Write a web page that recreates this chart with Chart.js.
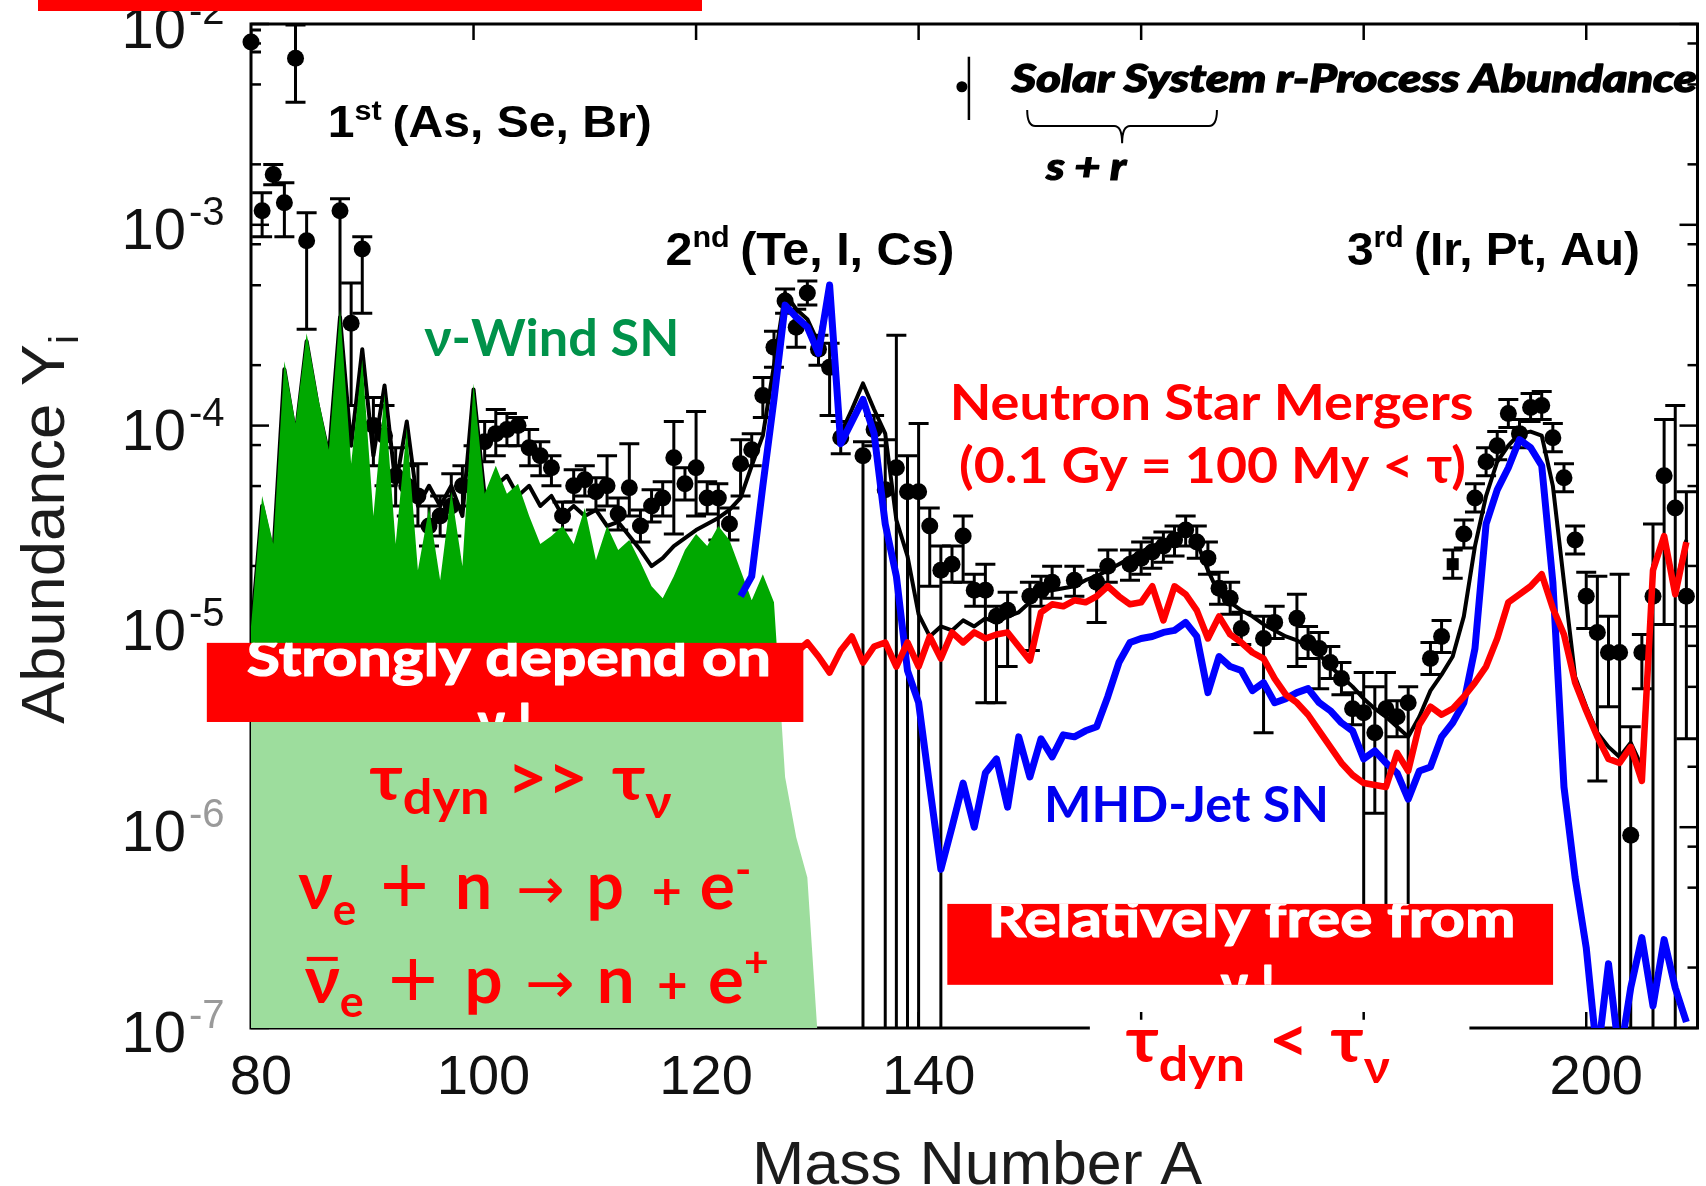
<!DOCTYPE html>
<html>
<head>
<meta charset="utf-8">
<script src="https://cdn.jsdelivr.net/npm/chart.js@4.4.1/dist/chart.umd.min.js"></script>
<style>
  html, body { margin: 0; padding: 0; background: #fff; overflow: hidden; }
  #wrap { width: 1706px; height: 1186px; }
</style>
</head>
<body>
<div id="wrap"><canvas id="abund" width="1706" height="1186"></canvas></div>
<script>
// ---- data: log10 abundances against mass number A ----

// mass numbers for the model curves
var massA = [
  80, 81, 82, 83, 84, 85, 86, 87, 88, 89,
  90, 91, 92, 93, 94, 95, 96, 97, 98, 99,
  100, 101, 102, 103, 104, 105, 106, 107, 108, 109,
  110, 111, 112, 113, 114, 115, 116, 117, 118, 119,
  120, 121, 122, 123, 124, 125, 126, 127, 128, 129,
  130, 131, 132, 133, 134, 135, 136, 137, 138, 139,
  140, 141, 142, 143, 144, 145, 146, 147, 148, 149,
  150, 151, 152, 153, 154, 155, 156, 157, 158, 159,
  160, 161, 162, 163, 164, 165, 166, 167, 168, 169,
  170, 171, 172, 173, 174, 175, 176, 177, 178, 179,
  180, 181, 182, 183, 184, 185, 186, 187, 188, 189,
  190, 191, 192, 193, 194, 195, 196, 197, 198, 199,
  200, 201, 202, 203, 204, 205, 206, 207, 208, 209
];

// black curve, A = 80..209
var blackLogY = [
  -5.05, -4.40, -4.65, -3.72, -4.05, -3.58, -3.90, -4.15, -3.46, -4.10,
  -3.62, -4.15, -3.80, -4.30, -3.98, -4.40, -4.30, -4.40, -4.30, -4.45,
  -3.82, -4.35, -4.30, -4.25, -4.35, -4.30, -4.40, -4.35, -4.45, -4.40,
  -4.45, -4.42, -4.50, -4.48, -4.55, -4.62, -4.70, -4.66, -4.60, -4.56,
  -4.52, -4.49, -4.46, -4.42, -4.36, -4.20, -4.05, -3.70, -3.34, -3.42,
  -3.47, -3.59, -3.30, -4.04, -3.92, -3.79, -3.92, -4.04, -4.47, -4.65,
  -4.94, -5.05, -5.00, -5.02, -4.97, -5.00, -4.96, -4.98, -4.95, -4.93,
  -4.88, -4.83, -4.82, -4.81, -4.80, -4.77, -4.75, -4.72, -4.69, -4.66,
  -4.63, -4.60, -4.58, -4.55, -4.52, -4.58, -4.72, -4.84, -4.88, -4.92,
  -4.95, -4.99, -5.02, -5.05, -5.07, -5.10, -5.14, -5.20, -5.25, -5.30,
  -5.36, -5.41, -5.45, -5.50, -5.55, -5.45, -5.32, -5.24, -5.15, -4.95,
  -4.60, -4.35, -4.18, -4.10, -4.04, -4.03, -4.05, -4.30, -4.78, -5.25,
  -5.40, -5.53, -5.60, -5.65, -5.58, -5.70, -4.70, -4.56, -4.81, -4.57
];

// MHD-jet SN, A = 124..209
var blueA = massA.slice(massA.indexOf(124));
var blueLogY = [
  -4.85, -4.75, -4.30, -3.87, -3.40, -3.46,
  -3.51, -3.64, -3.30, -4.09, -3.98, -3.87, -4.04, -4.49, -4.75, -5.22,
  -5.38, -5.80, -6.21, -6.00, -5.78, -6.00, -5.73, -5.66, -5.90, -5.55,
  -5.75, -5.56, -5.65, -5.54, -5.55, -5.52, -5.50, -5.35, -5.18, -5.08,
  -5.06, -5.05, -5.03, -5.02, -4.98, -5.05, -5.33, -5.15, -5.20, -5.22,
  -5.32, -5.28, -5.38, -5.36, -5.33, -5.31, -5.38, -5.42, -5.48, -5.52,
  -5.66, -5.62, -5.68, -5.73, -5.86, -5.72, -5.70, -5.55, -5.48, -5.38,
  -5.11, -4.49, -4.32, -4.21, -4.07, -4.11, -4.20, -4.78, -5.80, -6.25,
  -6.60, -7.15, -6.68, -7.15, -6.80, -6.55, -6.89, -6.56, -6.80, -6.97
];

// neutron star mergers, A = 126..209
var redA = massA.slice(massA.indexOf(126));
var redLogY = [
  -5.10, -5.15, -5.10, -5.13,
  -5.08, -5.15, -5.23, -5.12, -5.05, -5.18, -5.10, -5.08, -5.20, -5.08,
  -5.20, -5.05, -5.16, -5.03, -5.08, -5.03, -5.06, -5.04, -5.03, -5.10,
  -5.17, -4.93, -4.89, -4.90, -4.87, -4.88, -4.85, -4.80, -4.85, -4.89,
  -4.88, -4.80, -4.97, -4.80, -4.84, -4.92, -5.06, -4.95, -5.04, -5.08,
  -5.13, -5.16, -5.26, -5.34, -5.38, -5.44, -5.52, -5.60, -5.68, -5.74,
  -5.78, -5.79, -5.80, -5.63, -5.72, -5.49, -5.40, -5.44, -5.41, -5.35,
  -5.28, -5.20, -5.06, -4.88, -4.84, -4.80, -4.74, -4.91, -5.04, -5.28,
  -5.42, -5.55, -5.66, -5.68, -5.60, -5.77, -4.72, -4.55, -4.84, -4.58
];

// neutrino-driven wind SN, A = 80..131
var greenA = massA.slice(0, massA.indexOf(131) + 1);
var greenLogY = [
  -5.00, -4.35, -4.59, -3.68, -3.99, -3.54, -3.85, -4.12, -3.42, -4.19,
  -3.67, -4.45, -3.84, -4.59, -4.01, -4.72, -4.41, -4.77, -4.33, -4.70,
  -3.79, -4.34, -4.20, -4.34, -4.29, -4.45, -4.59, -4.55, -4.50, -4.59,
  -4.41, -4.67, -4.50, -4.62, -4.57, -4.68, -4.80, -4.86, -4.75, -4.62,
  -4.54, -4.60, -4.50, -4.57, -4.72, -4.87, -4.74, -4.88, -5.75, -6.05,
  -6.25, -7.10
];

// solar system r-process abundances with error bar ends
var solarA = [
  80, 81, 82, 83, 84, 85,
  88, 89, 90, 91, 92, 93, 94, 95, 96, 97,
  98, 99, 100, 101, 102, 103, 104, 105, 106, 107,
  108, 109, 110, 111, 112, 113, 114, 115, 116, 117,
  118, 119, 120, 121, 122, 123, 124, 125, 126, 127,
  128, 129, 130, 131, 132, 133,
  135, 136, 137, 138, 139, 140, 141, 142, 143, 144,
  145, 146, 147, 148,
  150, 151, 152,
  154,
  156, 157,
  159, 160, 161, 162, 163, 164, 165, 166, 167, 168, 169,
  171, 172,
  174, 175, 176, 177, 178, 179, 180, 181, 182, 183, 184,
  186, 187, 188, 189, 190, 191, 192, 193, 194, 195,
  196, 197, 198, 199, 200, 201, 202, 203, 204, 205,
  206, 207, 208, 209
];
var solarLogY = [
  -2.09, -2.93, -2.75, -2.89, -2.17, -3.08,
  -2.93, -3.49, -3.12, -4.00, -4.05, -4.25, -4.30, -4.35, -4.50, -4.45,
  -4.40, -4.30, -4.20, -4.08, -4.04, -4.02, -4.00, -4.11, -4.15, -4.21,
  -4.45, -4.30, -4.27, -4.33, -4.30, -4.44, -4.31, -4.50, -4.40, -4.36,
  -4.16, -4.29, -4.21, -4.36, -4.36, -4.49, -4.19, -4.12, -3.85, -3.61,
  -3.38, -3.51, -3.34, -3.62, -3.71, -4.06,
  -4.15, -4.02, -4.32, -4.21, -4.33, -4.33, -4.50, -4.72, -4.69, -4.55,
  -4.82, -4.82, -4.95, -4.92,
  -4.85, -4.82, -4.78,
  -4.77,
  -4.78, -4.70,
  -4.69, -4.66, -4.63, -4.60, -4.57, -4.52, -4.58, -4.66, -4.81, -4.86, -5.01,
  -5.06, -4.98,
  -4.96, -5.08, -5.11, -5.18, -5.26, -5.41, -5.43, -5.53, -5.41, -5.45, -5.38,
  -5.16, -5.05, -4.69, -4.54, -4.36, -4.18, -4.10, -3.94, -4.04, -3.91,
  -3.90, -4.06, -4.26, -4.57, -4.85, -5.03, -5.13, -5.13, -6.04, -5.13,
  -4.85, -4.25, -4.41, -4.85
];
var solarLo = [
  -2.14, -3.06, -2.80, -3.06, -2.39, -3.52,
  -4.10, -3.90, -3.44, -4.20, -4.30, -4.40, -4.45, -4.50, -4.60, -4.55,
  -4.55, -4.40, -4.30, -4.18, -4.15, -4.10, -4.10, -4.20, -4.25, -4.30,
  -4.52, -4.38, -4.35, -4.42, -4.40, -4.52, -4.45, -4.58, -4.48, -4.45,
  -4.54, -4.37, -4.45, -4.44, -4.57, -4.57, -4.35, -4.20, -3.96, -3.71,
  -3.44, -3.61, -3.40, -3.70, -3.95, -4.14,
  -7.20, -4.10, -7.20, -7.20, -7.20, -7.20, -4.80, -7.20, -4.78, -4.78,
  -4.90, -5.38, -5.38, -5.20,
  -5.12, -4.90, -4.86,
  -4.85,
  -4.98, -4.78,
  -4.77, -4.74, -4.71, -4.68, -4.65, -4.60, -4.66, -4.74, -4.89, -4.94, -5.09,
  -5.53, -5.06,
  -5.20, -5.16, -5.31, -5.26, -5.34, -5.49, -6.50, -5.93, -6.50, -5.55, -6.50,
  -5.24, -5.13, -4.76, -4.61, -4.43, -4.25, -4.17, -4.01, -4.11, -3.98,
  -3.97, -4.13, -4.33, -4.64, -5.01, -5.77, -5.40, -7.20, -7.20, -5.31,
  -7.20, -4.99, -7.20, -5.56
];
var solarHi = [
  -2.03, -2.84, -2.70, -2.79, -2.005, -2.94,
  -2.87, -3.29, -3.06, -3.86, -3.90, -4.11, -4.20, -4.19, -4.40, -4.35,
  -4.24, -4.20, -4.10, -3.98, -3.92, -3.94, -3.96, -4.02, -4.08, -4.15,
  -4.38, -4.22, -4.20, -4.26, -4.15, -4.36, -4.09, -4.42, -4.32, -4.28,
  -3.98, -4.21, -3.93, -4.28, -4.29, -4.41, -4.07, -4.04, -3.76, -3.53,
  -3.32, -3.42, -3.28, -3.55, -3.59, -3.98,
  -4.08, -3.95, -4.07, -3.55, -4.15, -3.99, -4.41, -4.60, -4.60, -4.45,
  -4.74, -4.69, -4.90, -4.83,
  -4.78, -4.75, -4.70,
  -4.70,
  -4.72, -4.62,
  -4.62, -4.58, -4.56, -4.53, -4.50, -4.45, -4.50, -4.58, -4.73, -4.78, -4.93,
  -4.95, -4.90,
  -4.84, -5.00, -5.03, -5.10, -5.18, -5.33, -5.23, -5.30, -5.23, -5.37, -5.30,
  -5.08, -4.97, -4.62, -4.47, -4.29, -4.11, -4.03, -3.87, -3.97, -3.84,
  -3.83, -3.99, -4.19, -4.50, -4.73, -4.75, -4.95, -4.74, -5.50, -5.04,
  -4.49, -3.97, -3.90, -4.33
];
var solarSquareA = [188];

// axis ticks
var xTickValues = [80, 100, 120, 140, 160, 180, 200];
var xTopTicks = [100, 120, 140, 160, 180, 200];
var yDecades = [-7, -6, -5, -4, -3, -2];
var yMinorSteps = [2, 5, 8];

// ---- styling ----
var SANS = '"Liberation Sans", Arial, sans-serif';
var CAL = 'Lato, "Open Sans", "DejaVu Sans", sans-serif';
var RED = '#ff0000';
var WIND_DARK = '#00a800';
var WIND_LIGHT = '#9ddd9d';

function pts(aList, logList) {
  var out = [];
  for (var i = 0; i < aList.length; i++) {
    out.push({ x: aList[i], y: Math.pow(10, logList[i]) });
  }
  return out;
}
function px(chart, a) { return chart.scales.x.getPixelForValue(a); }
function py(chart, lg) { return chart.scales.y.getPixelForValue(Math.pow(10, lg)); }

// red note boxes and the white one under the bottom formula (A range, log Y range)
var noteBoxes = [
  { a: [76.03, 129.64], lg: [-5.082, -5.476], fill: RED, lines: [
      { at: [79.62, -5.245], width: 524, parts: [{ text: 'Strongly depend on', font: 'bold 52px ' + CAL, color: '#fff', heavy: 1.2 }] },
      { at: [102.83, -5.565], align: 'center', parts: [{ text: '\u03bd !', font: 'bold 52px ' + CAL, color: '#fff', heavy: 1.2 }] } ] },
  { a: [142.58, 197.02], lg: [-6.382, -6.785], fill: RED, lines: [
      { at: [146.18, -6.548], width: 528, parts: [{ text: 'Relatively free from', font: 'bold 52px ' + CAL, color: '#fff', heavy: 1.2 }] },
      { at: [169.6, -6.87], align: 'center', parts: [{ text: '\u03bd !', font: 'bold 52px ' + CAL, color: '#fff', heavy: 1.2 }] } ] },
  { a: [155.39, 189.5], lg: [-6.959, -7.358], fill: '#fff', lines: [] }
];

var labels = [
  { at: [86.89, -2.564], width: 324, parts: [
      { text: '1', font: 'bold 44px ' + SANS },
      { text: 'st', font: 'bold 28px ' + SANS, dy: -17, gap: 10 },
      { text: '(As, Se, Br)', font: 'bold 44px ' + SANS }] },
  { at: [117.25, -3.2], width: 289, parts: [
      { text: '2', font: 'bold 46px ' + SANS },
      { text: 'nd', font: 'bold 29px ' + SANS, dy: -18, gap: 10 },
      { text: '(Te, I, Cs)', font: 'bold 46px ' + SANS }] },
  { at: [178.49, -3.2], width: 293, parts: [
      { text: '3', font: 'bold 46px ' + SANS },
      { text: 'rd', font: 'bold 29px ' + SANS, dy: -18, gap: 10 },
      { text: '(Ir, Pt, Au)', font: 'bold 46px ' + SANS }] },
  { at: [148.38, -2.337], width: 685, parts: [
      { text: 'Solar System r-Process Abundance', font: 'italic 900 38px ' + CAL, heavy: 1.4 }] },
  { at: [151.47, -2.777], width: 80, parts: [
      { text: 's + r', font: 'italic 900 38px ' + CAL, heavy: 1.2 }] },
  { at: [95.58, -3.653], width: 255, parts: [
      { text: '\u03bd-Wind SN', font: 'bold 52px ' + CAL, color: '#00924a' }] },
  { at: [142.79, -3.972], width: 524, parts: [
      { text: 'Neutron Star Mergers', font: 'bold 50px ' + CAL, color: RED }] },
  { at: [143.63, -4.287], width: 507, parts: [
      { text: '(0.1 Gy = 100 My < \u03c4)', font: 'bold 50px ' + CAL, color: RED }] },
  { at: [151.26, -5.972], width: 285, parts: [
      { text: 'MHD-Jet SN', font: 'bold 50px ' + CAL, color: '#0000ee' }] },
  { at: [90.65, -5.867], width: 302, parts: [
      { text: '\u03c4', font: 'bold 64px ' + CAL, color: RED },
      { text: 'dyn', font: 'bold 48px ' + CAL, color: RED, dy: 14, gap: 16 },
      { text: '>>', font: 'bold 64px ' + CAL, color: RED, gap: 22 },
      { text: '\u03c4', font: 'bold 64px ' + CAL, color: RED },
      { text: '\u03bd', font: 'bold 46px ' + CAL, color: RED, dy: 18 }] },
  { at: [84.25, -6.406], width: 453, parts: [
      { text: '\u03bd', font: 'bold 66px ' + CAL, color: RED },
      { text: 'e', font: 'bold 44px ' + CAL, color: RED, dy: 16, gap: 24 },
      { text: '+', font: '84px ' + SANS, color: RED, dy: 4, gap: 26 },
      { text: 'n', font: 'bold 66px ' + CAL, color: RED, gap: 24 },
      { text: '\u2192', font: '58px "DejaVu Sans", sans-serif', color: RED, gap: 22 },
      { text: 'p', font: 'bold 66px ' + CAL, color: RED, gap: 28 },
      { text: '+', font: 'bold 52px ' + CAL, color: RED, gap: 18 },
      { text: 'e', font: 'bold 66px ' + CAL, color: RED },
      { text: '-', font: 'bold 44px ' + CAL, color: RED, dy: -24 }] },
  { at: [84.83, -6.875], width: 464, parts: [
      { text: '\u03bd', font: 'bold 66px ' + CAL, color: RED, bar: true },
      { text: 'e', font: 'bold 44px ' + CAL, color: RED, dy: 14, gap: 24 },
      { text: '+', font: '84px ' + SANS, color: RED, dy: 4, gap: 26 },
      { text: 'p', font: 'bold 66px ' + CAL, color: RED, gap: 22 },
      { text: '\u2192', font: '58px "DejaVu Sans", sans-serif', color: RED, gap: 22 },
      { text: 'n', font: 'bold 66px ' + CAL, color: RED, gap: 22 },
      { text: '+', font: 'bold 52px ' + CAL, color: RED, gap: 20 },
      { text: 'e', font: 'bold 66px ' + CAL, color: RED },
      { text: '+', font: 'bold 42px ' + CAL, color: RED, dy: -26 }] },
  { at: [158.61, -7.167], width: 264, parts: [
      { text: '\u03c4', font: 'bold 64px ' + CAL, color: RED },
      { text: 'dyn', font: 'bold 48px ' + CAL, color: RED, dy: 19, gap: 22 },
      { text: '<', font: 'bold 64px ' + CAL, color: RED, gap: 20 },
      { text: '\u03c4', font: 'bold 64px ' + CAL, color: RED },
      { text: '\u03bd', font: 'bold 46px ' + CAL, color: RED, dy: 21 }] }
];

// draws a row of text pieces, squeezed or stretched to the given width;
// "heavy" adds an outline in the fill colour to thicken the strokes
function drawParts(ctx, parts, x, y, width, align) {
  var total = 0;
  parts.forEach(function(p, i) {
    ctx.font = p.font;
    p.w = ctx.measureText(p.text).width;
    total += p.w + (i < parts.length - 1 ? (p.gap || 0) : 0);
  });
  var sx = width ? width / total : 1;
  var x0 = align === 'center' ? x - total * sx / 2 : x;
  ctx.save();
  ctx.translate(x0, y);
  ctx.scale(sx, 1);
  ctx.textAlign = 'left';
  ctx.textBaseline = 'alphabetic';
  ctx.lineJoin = 'round';
  var cx = 0;
  parts.forEach(function(p) {
    ctx.font = p.font;
    ctx.fillStyle = p.color || '#000';
    ctx.fillText(p.text, cx, p.dy || 0);
    if (p.heavy) {
      ctx.strokeStyle = p.color || '#000';
      ctx.lineWidth = p.heavy;
      ctx.strokeText(p.text, cx, p.dy || 0);
    }
    if (p.bar) ctx.fillRect(cx + 2, -46, p.w - 4, 4);
    cx += p.w + (p.gap || 0);
  });
  ctx.restore();
}

function line(ctx, x1, y1, x2, y2) {
  ctx.beginPath(); ctx.moveTo(x1, y1); ctx.lineTo(x2, y2); ctx.stroke();
}

// frame, inward ticks and error bars sit underneath the curves
var underlay = {
  id: 'underlay',
  beforeDatasetsDraw: function(chart) {
    var ctx = chart.ctx, a = chart.chartArea;
    ctx.save();
    ctx.strokeStyle = '#000';
    ctx.lineWidth = 3;
    ctx.strokeRect(a.left, a.top, a.right - a.left, a.bottom - a.top);
    ctx.lineWidth = 2.5;
    yDecades.forEach(function(d) {
      var y = py(chart, d);
      line(ctx, a.left, y, a.left + 18, y);
      line(ctx, a.right, y, a.right - 18, y);
      if (d === -2) return;
      yMinorSteps.forEach(function(m) {
        var ym = py(chart, d + Math.log10(m));
        line(ctx, a.left, ym, a.left + 10, ym);
        line(ctx, a.right, ym, a.right - 10, ym);
      });
    });
    xTopTicks.forEach(function(t) {
      var x = px(chart, t);
      line(ctx, x, a.top, x, a.top + 16);
      line(ctx, x, a.bottom, x, a.bottom - 16);
    });

    ctx.beginPath();
    ctx.rect(a.left, a.top, a.right - a.left, a.bottom - a.top);
    ctx.clip();
    ctx.lineWidth = 3;
    for (var i = 0; i < solarA.length; i++) {
      var x = px(chart, solarA[i]);
      var yLo = py(chart, solarLo[i]), yHi = py(chart, solarHi[i]);
      ctx.beginPath();
      ctx.moveTo(x, yLo); ctx.lineTo(x, yHi);
      ctx.moveTo(x - 10, yHi); ctx.lineTo(x + 10, yHi);
      ctx.moveTo(x - 10, yLo); ctx.lineTo(x + 10, yLo);
      ctx.stroke();
    }
    ctx.restore();
  }
};

// tick labels, notes, titles
var overlay = {
  id: 'overlay',
  afterDraw: function(chart) {
    var ctx = chart.ctx, a = chart.chartArea;
    ctx.save();

    // x tick labels (the 160/180 ones end up under the white note box)
    ctx.fillStyle = '#111';
    ctx.font = '56px ' + SANS;
    ctx.textAlign = 'center';
    ctx.textBaseline = 'alphabetic';
    xTickValues.forEach(function(t) {
      ctx.fillText(String(t), px(chart, t) + 10, a.bottom + 66);
    });

    // y tick labels as 10 with a raised exponent
    yDecades.forEach(function(d) {
      var y = py(chart, d);
      ctx.textAlign = 'right';
      ctx.fillStyle = '#111';
      ctx.font = '58px ' + SANS;
      ctx.fillText('10', a.left - 65, y + 24);
      ctx.textAlign = 'left';
      ctx.fillStyle = d <= -6 ? '#9a9a9a' : '#111';
      ctx.font = '40px ' + SANS;
      ctx.fillText(String(d), a.left - 62, y);
    });

    // note boxes, text clipped to each box
    noteBoxes.forEach(function(b) {
      var x1 = px(chart, b.a[0]), x2 = px(chart, b.a[1]);
      var y1 = py(chart, b.lg[0]), y2 = py(chart, b.lg[1]);
      ctx.fillStyle = b.fill;
      ctx.fillRect(x1, y1, x2 - x1, y2 - y1);
      ctx.save();
      ctx.beginPath();
      ctx.rect(x1, y1, x2 - x1, y2 - y1);
      ctx.clip();
      b.lines.forEach(function(l) {
        drawParts(ctx, l.parts, px(chart, l.at[0]), py(chart, l.at[1]), l.width, l.align);
      });
      ctx.restore();
    });

    labels.forEach(function(l) {
      drawParts(ctx, l.parts, px(chart, l.at[0]), py(chart, l.at[1]), l.width, l.align);
    });

    // legend marker: point with its error bar
    ctx.fillStyle = '#000';
    ctx.strokeStyle = '#000';
    ctx.beginPath();
    ctx.arc(px(chart, 143.89), py(chart, -2.3125), 5.5, 0, Math.PI * 2);
    ctx.fill();
    ctx.lineWidth = 2.5;
    line(ctx, px(chart, 144.52), py(chart, -2.163), px(chart, 144.52), py(chart, -2.478));

    // brace under "Solar System"
    var bl = px(chart, 149.76), br = px(chart, 166.81), bt = px(chart, 158.29);
    var yTop = py(chart, -2.4285), yMid = py(chart, -2.508), yTip = py(chart, -2.594);
    ctx.lineWidth = 2;
    ctx.beginPath();
    ctx.moveTo(bl, yTop);
    ctx.quadraticCurveTo(bl, yMid, bl + 8, yMid);
    ctx.lineTo(bt - 8, yMid);
    ctx.quadraticCurveTo(bt, yMid, bt, yTip);
    ctx.quadraticCurveTo(bt, yMid, bt + 8, yMid);
    ctx.lineTo(br - 8, yMid);
    ctx.quadraticCurveTo(br, yMid, br, yTop);
    ctx.stroke();

    // axis titles
    ctx.save();
    ctx.translate(64, 724);
    ctx.rotate(-Math.PI / 2);
    drawParts(ctx, [
      { text: 'Abundance Y', font: '62px ' + SANS, color: '#1c1c1c' },
      { text: 'i', font: '40px ' + SANS, color: '#1c1c1c', dy: 14 }
    ], 0, 0, 389);
    ctx.restore();
    drawParts(ctx, [{ text: 'Mass Number A', font: '62px ' + SANS, color: '#1c1c1c' }], 977, 1184, 450, 'center');

    // red strip along the top edge
    ctx.fillStyle = RED;
    ctx.fillRect(38, 0, 664, 11);
    ctx.restore();
  }
};

function windFill(c) {
  var chart = c.chart, area = chart.chartArea;
  if (!area) return WIND_DARK;
  var cut = py(chart, noteBoxes[0].lg[1]);
  var t = Math.min(1, Math.max(0, (cut - area.top) / (area.bottom - area.top)));
  var g = chart.ctx.createLinearGradient(0, area.top, 0, area.bottom);
  g.addColorStop(0, WIND_DARK);
  g.addColorStop(t, WIND_DARK);
  g.addColorStop(t, WIND_LIGHT);
  g.addColorStop(1, WIND_LIGHT);
  return g;
}

var solarStyles = solarA.map(function(a) { return solarSquareA.indexOf(a) >= 0 ? 'rect' : 'circle'; });

new Chart(document.getElementById('abund'), {
  type: 'line',
  data: {
    datasets: [
      { label: 'Neutron Star Mergers', data: pts(redA, redLogY), borderColor: RED, borderWidth: 6.5,
        pointRadius: 0, fill: false, borderJoinStyle: 'round', order: 1 },
      { label: 'MHD-Jet SN', data: pts(blueA, blueLogY), borderColor: '#0000ff', borderWidth: 7,
        pointRadius: 0, fill: false, borderJoinStyle: 'round', order: 2 },
      { label: 'nu-Wind SN', data: pts(greenA, greenLogY), borderColor: 'rgba(0,0,0,0)', borderWidth: 1,
        backgroundColor: windFill, pointRadius: 0, fill: 'start', order: 3 },
      { label: 'total', data: pts(massA, blackLogY), borderColor: '#000', borderWidth: 4,
        pointRadius: 0, fill: false, borderJoinStyle: 'round', order: 4 },
      { label: 'Solar System r-Process Abundance', data: pts(solarA, solarLogY), showLine: false, clip: false,
        pointRadius: 8.5, pointStyle: solarStyles, pointBackgroundColor: '#000', pointBorderWidth: 0, order: 5 }
    ]
  },
  options: {
    responsive: false,
    animation: false,
    events: [],
    layout: { padding: { left: 251, right: 3, top: 24, bottom: 158 } },
    plugins: { legend: { display: false }, tooltip: { enabled: false } },
    scales: {
      x: { type: 'linear', min: 80, max: 210, display: false },
      y: { type: 'logarithmic', min: 1e-7, max: 1e-2, display: false }
    }
  },
  plugins: [underlay, overlay]
});
</script>
</body>
</html>
